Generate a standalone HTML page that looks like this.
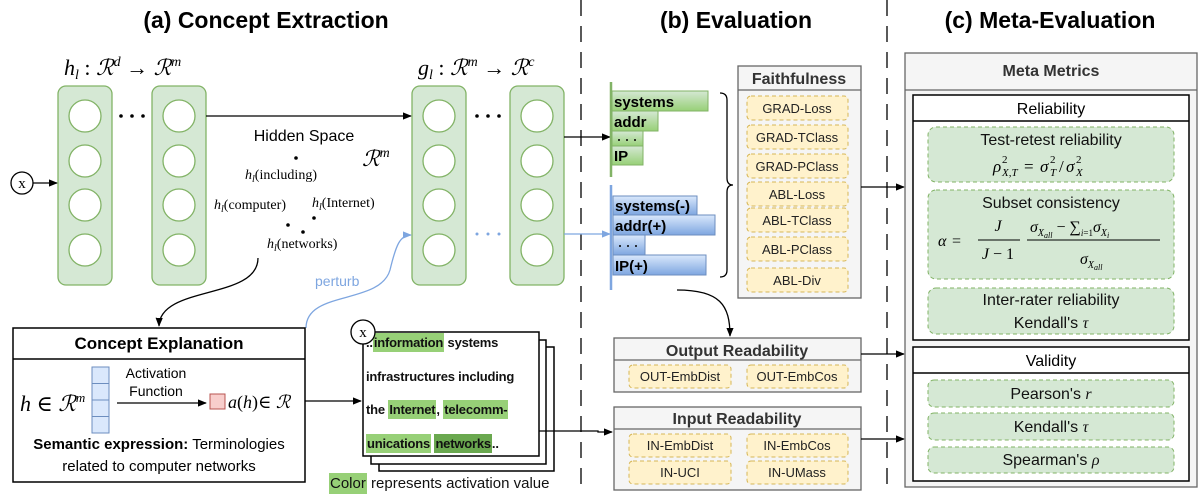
<!DOCTYPE html>
<html><head><meta charset="utf-8"><style>
html,body{margin:0;padding:0;background:#fff;}
body{position:relative;width:1200px;height:494px;overflow:hidden;}
svg{display:block;position:absolute;left:0;top:0;}
.t{font-family:"Liberation Sans",Arial,sans-serif;}
.m{font-family:"Liberation Serif","DejaVu Serif",serif;}
.i{font-style:italic;}
.c{font-family:"Liberation Sans",sans-serif;font-weight:bold;}
#card{position:absolute;left:366px;top:326px;width:172px;font-family:"Liberation Sans",sans-serif;font-weight:bold;font-size:13px;color:#111;line-height:33.5px;white-space:nowrap;letter-spacing:-0.2px;}
#card div{height:33.5px;}
.g{background:#97d077;padding:2px 1px;}
.d{background:#6aa84f;padding:2px 1px;}
#col{position:absolute;left:329px;top:475px;font-family:"Liberation Sans",sans-serif;font-size:15px;color:#111;white-space:nowrap;}
</style></head><body>
<svg width="1200" height="494" viewBox="0 0 1200 494" xmlns="http://www.w3.org/2000/svg">
<defs>
<marker id="ab" viewBox="0 0 10 10" refX="9" refY="5" markerWidth="7" markerHeight="7" orient="auto"><path d="M0,1 L10,5 L0,9 z" fill="#000"/></marker>
<marker id="abl" viewBox="0 0 10 10" refX="9" refY="5" markerWidth="7" markerHeight="7" orient="auto"><path d="M0,1 L10,5 L0,9 z" fill="#7ea6e0"/></marker>
<linearGradient id="gg" x1="0" x2="0" y1="0" y2="1"><stop offset="0" stop-color="#d5e8d4"/><stop offset="1" stop-color="#97d077"/></linearGradient>
<linearGradient id="bg" x1="0" x2="0" y1="0" y2="1"><stop offset="0" stop-color="#dae8fc"/><stop offset="1" stop-color="#7ea6e0"/></linearGradient>
</defs>

<g class="t" font-weight="bold" font-size="23" text-anchor="middle">
<text x="266" y="28">(a) Concept Extraction</text>
<text x="736" y="28">(b) Evaluation</text>
<text x="1050" y="28">(c) Meta-Evaluation</text>
</g>
<line x1="581" y1="0" x2="581" y2="494" stroke="#000" stroke-width="1.3" stroke-dasharray="16,10"/>
<line x1="887" y1="0" x2="887" y2="494" stroke="#000" stroke-width="1.3" stroke-dasharray="16,10"/>

<g stroke="#82b366" fill="#d5e8d4" stroke-width="1.3">
<rect x="58" y="86" width="54" height="199" rx="8"/>
<rect x="152" y="86" width="54" height="199" rx="8"/>
<rect x="412" y="86" width="54" height="199" rx="8"/>
<rect x="510" y="86" width="54" height="199" rx="8"/>
</g>
<g stroke="#82b366" fill="#fff" stroke-width="1.3">
<circle cx="85" cy="116" r="16"/><circle cx="85" cy="161" r="16"/><circle cx="85" cy="205" r="16"/><circle cx="85" cy="250" r="16"/>
<circle cx="179" cy="116" r="16"/><circle cx="179" cy="161" r="16"/><circle cx="179" cy="205" r="16"/><circle cx="179" cy="250" r="16"/>
<circle cx="439" cy="116" r="16"/><circle cx="439" cy="161" r="16"/><circle cx="439" cy="205" r="16"/><circle cx="439" cy="250" r="16"/>
<circle cx="537" cy="116" r="16"/><circle cx="537" cy="161" r="16"/><circle cx="537" cy="205" r="16"/><circle cx="537" cy="250" r="16"/>
</g>
<g fill="#000"><circle cx="121" cy="116" r="1.8"/><circle cx="132" cy="116" r="1.8"/><circle cx="143" cy="116" r="1.8"/>
<circle cx="477" cy="116" r="1.8"/><circle cx="488" cy="116" r="1.8"/><circle cx="499" cy="116" r="1.8"/></g>
<g fill="#7ea6e0"><circle cx="477" cy="234" r="1.5"/><circle cx="488" cy="234" r="1.5"/><circle cx="499" cy="234" r="1.5"/></g>

<text class="m" x="64" y="75" font-size="22"><tspan class="i">h</tspan><tspan font-size="14" dy="4" class="i">l</tspan><tspan dy="-4"> : </tspan><tspan class="i">ℛ</tspan><tspan font-size="14" dy="-9" class="i">d</tspan><tspan dy="9"> → </tspan><tspan class="i">ℛ</tspan><tspan font-size="14" dy="-9" class="i">m</tspan></text>
<text class="m" x="418" y="75" font-size="22"><tspan class="i">g</tspan><tspan font-size="14" dy="4" class="i">l</tspan><tspan dy="-4"> : </tspan><tspan class="i">ℛ</tspan><tspan font-size="14" dy="-9" class="i">m</tspan><tspan dy="9"> → </tspan><tspan class="i">ℛ</tspan><tspan font-size="14" dy="-9" class="i">c</tspan></text>

<circle cx="22" cy="183" r="11" fill="#fff" stroke="#000" stroke-width="1.3"/>
<text class="m" x="22" y="188" font-size="15" text-anchor="middle">x</text>
<line x1="33" y1="183" x2="57" y2="183" stroke="#000" stroke-width="1.3" marker-end="url(#ab)"/>

<line x1="206" y1="116" x2="411" y2="116" stroke="#000" stroke-width="1.3" marker-end="url(#ab)"/>
<text class="t" x="304" y="141" font-size="16" text-anchor="middle">Hidden Space</text>
<text class="m i" x="362" y="166" font-size="22">ℛ<tspan font-size="14" dy="-9">m</tspan></text>
<g class="m" font-size="14">
<text x="245" y="179"><tspan class="i">h</tspan><tspan font-size="10" dy="3" class="i">l</tspan><tspan dy="-3">(including)</tspan></text>
<text x="214" y="209"><tspan class="i">h</tspan><tspan font-size="10" dy="3" class="i">l</tspan><tspan dy="-3">(computer)</tspan></text>
<text x="312" y="207"><tspan class="i">h</tspan><tspan font-size="10" dy="3" class="i">l</tspan><tspan dy="-3">(Internet)</tspan></text>
<text x="267" y="248"><tspan class="i">h</tspan><tspan font-size="10" dy="3" class="i">l</tspan><tspan dy="-3">(networks)</tspan></text>
</g>
<g fill="#000"><circle cx="296" cy="158" r="1.8"/><circle cx="288" cy="225" r="1.8"/><circle cx="303" cy="232" r="1.8"/><circle cx="314" cy="218" r="1.8"/></g>

<path d="M258,258 C258,300 160,285 159,326" fill="none" stroke="#000" stroke-width="1.3" marker-end="url(#ab)"/>
<path d="M306,328 C306,290 380,305 390,270 C396,245 400,235 411,235" fill="none" stroke="#7ea6e0" stroke-width="1.3" marker-end="url(#abl)"/>
<text class="t" x="315" y="286" font-size="14" fill="#7ea6e0">perturb</text>

<line x1="564" y1="137" x2="610" y2="137" stroke="#000" stroke-width="1.3" marker-end="url(#ab)"/>
<line x1="564" y1="234" x2="610" y2="234" stroke="#7ea6e0" stroke-width="1.3" marker-end="url(#abl)"/>

<g stroke="#82b366" fill="url(#gg)" stroke-width="1">
<rect x="612" y="91" width="96" height="20"/><rect x="612" y="111" width="46" height="20"/><rect x="612" y="131" width="31" height="15"/><rect x="612" y="146" width="31" height="19"/>
</g>
<line x1="611" y1="82" x2="611" y2="177" stroke="#82b366" stroke-width="2.5"/>
<g class="c" font-size="15" fill="#000">
<text x="614" y="107">systems</text><text x="614" y="127">addr</text><text x="614" y="161">IP</text>
</g>
<g fill="#000"><circle cx="619" cy="140" r="1"/><circle cx="627" cy="140" r="1"/><circle cx="635" cy="140" r="1"/></g>
<g stroke="#6c8ebf" fill="url(#bg)" stroke-width="1">
<rect x="613" y="196" width="84" height="19"/><rect x="613" y="215" width="102" height="20"/><rect x="613" y="235" width="32" height="20"/><rect x="613" y="255" width="93" height="20"/>
</g>
<line x1="611" y1="185" x2="611" y2="290" stroke="#7ea6e0" stroke-width="2.5"/>
<g class="c" font-size="15" fill="#000">
<text x="615" y="211">systems(-)</text><text x="615" y="231">addr(+)</text><text x="615" y="271">IP(+)</text>
</g>
<g fill="#000"><circle cx="620" cy="246" r="1"/><circle cx="628" cy="246" r="1"/><circle cx="636" cy="246" r="1"/></g>
<path d="M720,93 Q727,93 727,100 L727,178 Q727,185 733,185 Q727,185 727,192 L727,270 Q727,277 720,277" fill="none" stroke="#000" stroke-width="1.3"/>

<rect x="738" y="66" width="123" height="232" fill="#f5f5f5" stroke="#666" stroke-width="1.3"/>
<line x1="738" y1="90" x2="861" y2="90" stroke="#666" stroke-width="1.3"/>
<text class="t" x="799" y="84" font-size="16" font-weight="bold" fill="#333" text-anchor="middle">Faithfulness</text>
<g fill="#fff2cc" stroke="#d6b656" stroke-dasharray="4,3" stroke-width="1">
<rect x="747" y="96" width="101" height="24" rx="4"/><rect x="747" y="125" width="101" height="24" rx="4"/><rect x="747" y="154" width="101" height="24" rx="4"/><rect x="747" y="182" width="101" height="24" rx="4"/><rect x="747" y="208" width="101" height="24" rx="4"/><rect x="747" y="237" width="101" height="24" rx="4"/><rect x="747" y="268" width="101" height="24" rx="4"/>
</g>
<g class="t" font-size="13" fill="#222" text-anchor="middle">
<text x="797" y="113">GRAD-Loss</text><text x="797" y="142">GRAD-TClass</text><text x="797" y="171">GRAD-PClass</text><text x="797" y="199">ABL-Loss</text><text x="797" y="225">ABL-TClass</text><text x="797" y="254">ABL-PClass</text><text x="797" y="285">ABL-Div</text>
</g>
<line x1="861" y1="187" x2="904" y2="187" stroke="#000" stroke-width="1.3" marker-end="url(#ab)"/>

<path d="M677,290 C720,290 730,305 730,336" fill="none" stroke="#000" stroke-width="1.3" marker-end="url(#ab)"/>

<rect x="614" y="338" width="247" height="54" fill="#f5f5f5" stroke="#666" stroke-width="1.3"/>
<line x1="614" y1="360" x2="861" y2="360" stroke="#666" stroke-width="1.3"/>
<text class="t" x="737" y="356" font-size="16" font-weight="bold" fill="#333" text-anchor="middle">Output Readability</text>
<rect x="614" y="407" width="247" height="83" fill="#f5f5f5" stroke="#666" stroke-width="1.3"/>
<line x1="614" y1="429" x2="861" y2="429" stroke="#666" stroke-width="1.3"/>
<text class="t" x="737" y="424" font-size="16" font-weight="bold" fill="#333" text-anchor="middle">Input Readability</text>
<g fill="#fff2cc" stroke="#d6b656" stroke-dasharray="4,3" stroke-width="1">
<rect x="629" y="365" width="102" height="23" rx="4"/><rect x="747" y="365" width="101" height="23" rx="4"/>
<rect x="629" y="434" width="102" height="23" rx="4"/><rect x="747" y="434" width="101" height="23" rx="4"/>
<rect x="629" y="461" width="102" height="23" rx="4"/><rect x="747" y="461" width="101" height="23" rx="4"/>
</g>
<g class="t" font-size="13" fill="#222" text-anchor="middle">
<text x="680" y="381">OUT-EmbDist</text><text x="797" y="381">OUT-EmbCos</text>
<text x="680" y="450">IN-EmbDist</text><text x="797" y="450">IN-EmbCos</text>
<text x="680" y="477">IN-UCI</text><text x="797" y="477">IN-UMass</text>
</g>
<line x1="861" y1="354" x2="904" y2="354" stroke="#000" stroke-width="1.3" marker-end="url(#ab)"/>
<line x1="861" y1="439" x2="904" y2="439" stroke="#000" stroke-width="1.3" marker-end="url(#ab)"/>

<rect x="905" y="53" width="292" height="434" fill="#f5f5f5" stroke="#666" stroke-width="1.3"/>
<line x1="905" y1="90" x2="1197" y2="90" stroke="#666" stroke-width="1.3"/>
<text class="t" x="1051" y="76" font-size="16" font-weight="bold" fill="#333" text-anchor="middle">Meta Metrics</text>
<rect x="913" y="95" width="276" height="245" fill="#fff" stroke="#000" stroke-width="1.5"/>
<line x1="913" y1="121" x2="1189" y2="121" stroke="#000" stroke-width="1.5"/>
<text class="t" x="1051" y="114" font-size="16" text-anchor="middle">Reliability</text>
<rect x="913" y="347" width="276" height="134" fill="#fff" stroke="#000" stroke-width="1.5"/>
<line x1="913" y1="373" x2="1189" y2="373" stroke="#000" stroke-width="1.5"/>
<text class="t" x="1051" y="366" font-size="16" text-anchor="middle">Validity</text>
<g fill="#d5e8d4" stroke="#82b366" stroke-dasharray="4,3" stroke-width="1">
<rect x="928" y="127" width="246" height="55" rx="8"/>
<rect x="928" y="190" width="246" height="89" rx="8"/>
<rect x="928" y="288" width="246" height="46" rx="8"/>
<rect x="928" y="380" width="246" height="27" rx="6"/>
<rect x="928" y="413" width="246" height="27" rx="6"/>
<rect x="928" y="447" width="246" height="26" rx="6"/>
</g>
<g class="t" font-size="16" fill="#111" text-anchor="middle">
<text x="1051" y="145">Test-retest reliability</text>
<text x="1051" y="208">Subset consistency</text>
<text x="1051" y="305">Inter-rater reliability</text>
<text x="1051" y="328">Kendall's <tspan class="m i">τ</tspan></text>
<text x="1051" y="399">Pearson's <tspan class="m i">r</tspan></text>
<text x="1051" y="432">Kendall's <tspan class="m i">τ</tspan></text>
<text x="1051" y="465">Spearman's <tspan class="m i">ρ</tspan></text>
</g>
<g class="m" font-size="17">
<text x="993" y="172" class="i">ρ</text>
<text x="1002" y="163" font-size="11">2</text>
<text x="1002" y="176" font-size="11" class="i">X,T</text>
<text x="1024" y="172">=</text>
<text x="1040" y="172" class="i">σ</text>
<text x="1050" y="163" font-size="11">2</text>
<text x="1050" y="176" font-size="11" class="i">T</text>
<text x="1059" y="172">/</text>
<text x="1066" y="172" class="i">σ</text>
<text x="1076" y="163" font-size="11">2</text>
<text x="1076" y="176" font-size="11" class="i">X</text>
</g>
<g class="m" font-size="16">
<text x="938" y="246" class="i">α</text><text x="952" y="246">=</text>
<text x="998" y="231" class="i" text-anchor="middle">J</text>
<line x1="978" y1="240" x2="1020" y2="240" stroke="#000" stroke-width="1"/>
<text x="998" y="259" text-anchor="middle"><tspan class="i">J</tspan> − 1</text>
<line x1="1027" y1="240" x2="1160" y2="240" stroke="#000" stroke-width="1"/>
<text x="1030" y="232"><tspan class="i">σ</tspan><tspan font-size="10" dy="4" class="i">X</tspan><tspan font-size="8" dy="2" class="i">all</tspan><tspan dy="-6"> − ∑</tspan><tspan font-size="9" dy="4" class="i">i</tspan><tspan font-size="9">=1</tspan><tspan dy="-4" class="i">σ</tspan><tspan font-size="10" dy="4" class="i">X</tspan><tspan font-size="8" dy="2" class="i">i</tspan></text>
<text x="1080" y="264"><tspan class="i">σ</tspan><tspan font-size="10" dy="4" class="i">X</tspan><tspan font-size="8" dy="2" class="i">all</tspan></text>
</g>

<rect x="13" y="328" width="292" height="154" fill="#fff" stroke="#000" stroke-width="1.5"/>
<line x1="13" y1="359" x2="305" y2="359" stroke="#000" stroke-width="1.5"/>
<text class="t" x="159" y="349" font-size="17" font-weight="bold" text-anchor="middle">Concept Explanation</text>
<text class="m" x="20" y="411" font-size="22"><tspan class="i">h</tspan> ∈ <tspan class="i">ℛ</tspan><tspan font-size="13" dy="-9" class="i">m</tspan></text>
<g fill="#dae8fc" stroke="#6c8ebf" stroke-width="1">
<rect x="92" y="367" width="17" height="16.5"/><rect x="92" y="383.5" width="17" height="16.5"/><rect x="92" y="400" width="17" height="16.5"/><rect x="92" y="416.5" width="17" height="16.5"/>
</g>
<text class="t" x="156" y="378" font-size="14" text-anchor="middle">Activation</text>
<text class="t" x="156" y="396" font-size="14" text-anchor="middle">Function</text>
<line x1="117" y1="403" x2="206" y2="403" stroke="#000" stroke-width="1.3" marker-end="url(#ab)"/>
<rect x="210" y="394" width="15" height="15" fill="#f8cecc" stroke="#b85450" stroke-width="1"/>
<text class="m" x="228" y="408" font-size="18"><tspan class="i">a</tspan>(<tspan class="i">h</tspan>)∈ <tspan class="i">ℛ</tspan></text>
<text class="t" x="159" y="449" font-size="15" text-anchor="middle"><tspan font-weight="bold">Semantic expression:</tspan> Terminologies</text>
<text class="t" x="159" y="471" font-size="15" text-anchor="middle">related to computer networks</text>
<line x1="305" y1="401" x2="361" y2="401" stroke="#000" stroke-width="1.3" marker-end="url(#ab)"/>

<rect x="379" y="347" width="175" height="124" fill="#fff" stroke="#000" stroke-width="1.5"/>
<rect x="371" y="340" width="175" height="124" fill="#fff" stroke="#000" stroke-width="1.5"/>
<rect x="363" y="332" width="176" height="124" fill="#fff" stroke="#000" stroke-width="1.5"/>
<path d="M539,431 L598,431 L598,432 L612,432" fill="none" stroke="#000" stroke-width="1.3" marker-end="url(#ab)"/>
</svg>
<div id="card">
<div>..<span class="g">information</span> systems</div>
<div>infrastructures including</div>
<div>the <span class="g">Internet</span>, <span class="g">telecomm-</span></div>
<div><span class="g">unications</span> <span class="d">networks</span>..</div>
</div>
<svg width="1200" height="494" style="pointer-events:none">
<circle cx="363" cy="332" r="12" fill="#fff" stroke="#000" stroke-width="1.3"/>
<text class="m" x="363" y="337" font-size="15" text-anchor="middle">x</text>
</svg>
<div id="col"><span class="g">Color</span> represents activation value</div>
</body></html>
